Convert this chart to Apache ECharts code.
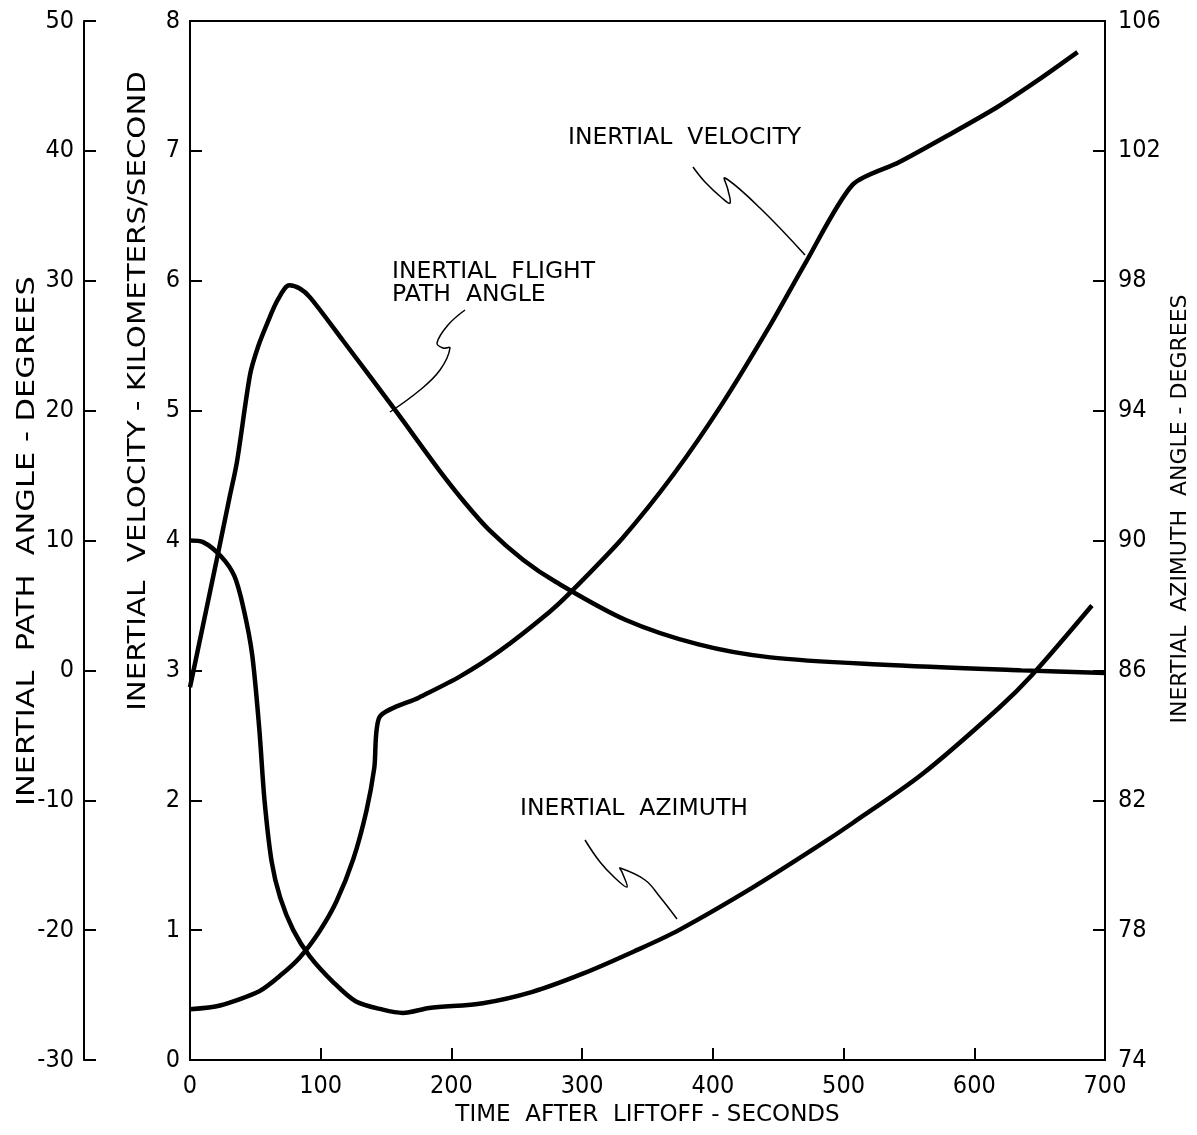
<!DOCTYPE html>
<html>
<head>
<meta charset="utf-8">
<script src="https://cdn.jsdelivr.net/npm/echarts@6/dist/echarts.min.js"></script>
<style>
html,body{margin:0;padding:0;background:#fff;}
#chart{width:1197px;height:1135px;}
</style>
</head>
<body>
<div id="chart"></div>
<script>
// ---- data ----
const timeTicks = [0, 100, 200, 300, 400, 500, 600, 700];

const velocityTime = [0, 23, 53, 69, 84, 99, 112, 125, 135, 141, 145, 175, 206, 237, 275, 292, 331, 370, 407, 444, 471, 507, 542, 580, 618, 651, 679];
const velocityKmS  = [0.39, 0.42, 0.53, 0.65, 0.79, 0.99, 1.22, 1.55, 1.92, 2.25, 2.64, 2.79, 2.95, 3.15, 3.45, 3.61, 4.02, 4.51, 5.05, 5.66, 6.14, 6.74, 6.91, 7.12, 7.34, 7.56, 7.76];

const pathTime = [0, 10, 20, 30, 36, 46, 52, 59, 67, 76, 84, 92, 117, 158, 190, 210, 229, 255, 280, 333, 389, 444, 527, 636, 700];
const pathDeg  = [-1.3, 3.5, 8.3, 13.2, 16.1, 22.8, 24.9, 26.7, 28.5, 29.65, 29.4, 28.7, 25.4, 19.9, 15.5, 12.95, 10.8, 8.5, 6.8, 3.9, 2.0, 1.0, 0.45, 0.0, -0.2];

const azimuthTime = [0, 10, 24, 34, 41, 47.5, 53, 57, 62.5, 69, 79, 91.5, 109.5, 127, 147.5, 163, 183, 224, 262, 300, 340, 374, 430, 481, 507, 560, 619, 644, 690];
const azimuthDeg  = [90.0, 89.95, 89.5, 88.9, 87.9, 86.5, 84.2, 82.0, 80.1, 79.0, 78.0, 77.2, 76.4, 75.8, 75.55, 75.45, 75.6, 75.75, 76.1, 76.65, 77.35, 78.0, 79.3, 80.6, 81.3, 82.8, 84.85, 85.85, 88.0];

const xTitle = 'TIME  AFTER  LIFTOFF - SECONDS';
const velTitle = 'INERTIAL  VELOCITY - KILOMETERS/SECOND';
const pathTitle = 'INERTIAL  PATH  ANGLE - DEGREES';
const azTitle = 'INERTIAL  AZIMUTH  ANGLE - DEGREES';

const pair = (xs, ys) => xs.map((x, i) => [x, ys[i]]);

const NUMFONT = '"Liberation Sans Narrow", "DejaVu Sans Condensed", "Liberation Sans"';
const BLACK = '#000';

const chart = echarts.init(document.getElementById('chart'), null, {renderer: 'canvas'});

const numLabel = {fontFamily: NUMFONT, fontSize: 25, color: BLACK, margin: 10};
const yCommon = {
  type: 'value',
  splitLine: {show: false},
  axisLine: {show: true, lineStyle: {color: BLACK, width: 2}},
  axisTick: {show: true, inside: true, length: 12, lineStyle: {color: BLACK, width: 2}},
  axisLabel: numLabel
};

chart.setOption({
  animation: false,
  backgroundColor: '#fff',
  grid: {left: 190, right: 92, top: 21, bottom: 75, show: true, borderColor: BLACK, borderWidth: 2},
  xAxis: {
    type: 'value', min: 0, max: 700, interval: 100,
    name: xTitle,
    nameLocation: 'middle', nameGap: 38,
    nameTextStyle: {fontFamily: 'DejaVu Sans', fontSize: 23, color: BLACK},
    splitLine: {show: false},
    axisLine: {show: true, onZero: false, lineStyle: {color: BLACK, width: 2}},
    axisTick: {show: true, inside: true, length: 12, lineStyle: {color: BLACK, width: 2}},
    axisLabel: Object.assign({}, numLabel, {margin: 14,
      formatter: v => timeTicks.includes(v) ? String(v) : ''})
  },
  yAxis: [
    Object.assign({}, yCommon, {position: 'left', offset: 0, min: 0, max: 8, interval: 1}),
    Object.assign({}, yCommon, {position: 'left', offset: 106, min: -30, max: 50, interval: 10}),
    Object.assign({}, yCommon, {position: 'right', offset: 0, min: 74, max: 106, interval: 4,
      axisLabel: Object.assign({}, numLabel, {margin: 13})})
  ],
  series: [
    {name: 'Inertial velocity', type: 'line', yAxisIndex: 0, data: pair(velocityTime, velocityKmS),
     showSymbol: false, smooth: 0.25, lineStyle: {color: BLACK, width: 4.5}},
    {name: 'Inertial flight path angle', type: 'line', yAxisIndex: 1, data: pair(pathTime, pathDeg),
     showSymbol: false, smooth: 0.3, lineStyle: {color: BLACK, width: 4.5}},
    {name: 'Inertial azimuth', type: 'line', yAxisIndex: 2, data: pair(azimuthTime, azimuthDeg),
     showSymbol: false, smooth: 0.3, lineStyle: {color: BLACK, width: 4.5}}
  ],
  graphic: [
    // axis titles (vertical)
    {type: 'text', x: 28, y: 541, rotation: Math.PI / 2, scaleX: 1.27,
     style: {text: pathTitle, font: '24px "DejaVu Sans"', fill: BLACK, align: 'center', verticalAlign: 'middle'}},
    {type: 'text', x: 139, y: 391, rotation: Math.PI / 2, scaleX: 1.22,
     style: {text: velTitle, font: '24px "DejaVu Sans"', fill: BLACK, align: 'center', verticalAlign: 'middle'}},
    {type: 'text', x: 1180, y: 509, rotation: Math.PI / 2,
     style: {text: azTitle, font: '22px "DejaVu Sans"', fill: BLACK, align: 'center', verticalAlign: 'middle'}},
    // curve annotations
    {type: 'text', left: 568, top: 126, style: {text: 'INERTIAL  VELOCITY', font: '23.5px "DejaVu Sans"', fill: BLACK}},
    {type: 'text', left: 392, top: 260, style: {text: 'INERTIAL  FLIGHT\nPATH  ANGLE', font: '23.5px "DejaVu Sans"', lineHeight: 23, fill: BLACK}},
    {type: 'text', left: 520, top: 797, style: {text: 'INERTIAL  AZIMUTH', font: '23.5px "DejaVu Sans"', fill: BLACK}},
    {type: 'polyline', shape: {points: [[693,167],[705,182],[722,198],[730,203],[728,190],[725,178],[760,208],[805,255]], smooth: 0.4}, style: {stroke: BLACK, lineWidth: 1.5, fill: null}},
    {type: 'polyline', shape: {points: [[465,310],[448,325],[437,343],[443,348],[450,348],[440,370],[420,390],[390,412]], smooth: 0.4}, style: {stroke: BLACK, lineWidth: 1.5, fill: null}},
    {type: 'polyline', shape: {points: [[585,840],[600,862],[615,878],[627,887],[622,872],[620,868],[645,880],[660,897],[677,919]], smooth: 0.4}, style: {stroke: BLACK, lineWidth: 1.5, fill: null}}
  ]
});
</script>
</body>
</html>
